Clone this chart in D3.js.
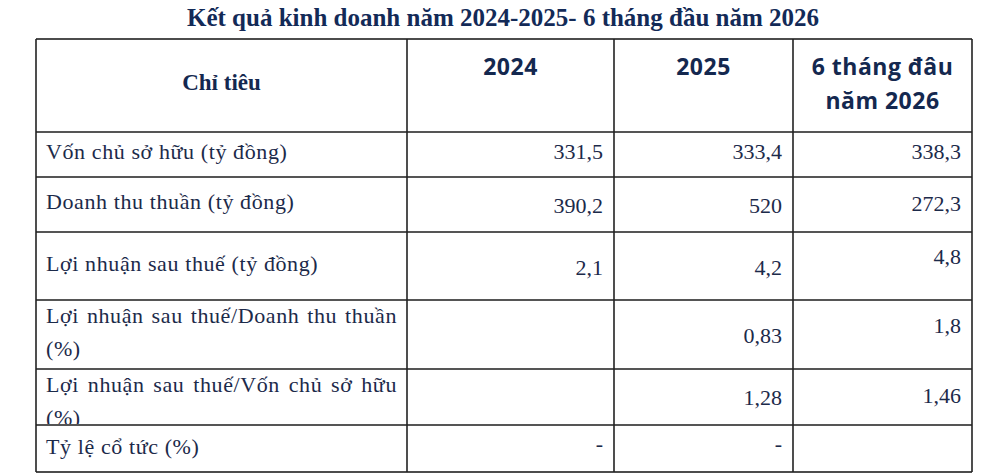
<!doctype html>
<html>
<head>
<meta charset="utf-8">
<title>Kết quả kinh doanh</title>
<script src="https://d3js.org/d3.v7.min.js"></script>
<style>
  body { margin: 0; background: #fff; }
  .lbl, .num { font-family: "Liberation Serif", "Times New Roman", serif; font-size: 22px; fill: #1c2a4a; }
  .lbl { letter-spacing: 0.6px; }
  .title { font-family: "Liberation Serif", serif; font-weight: bold; font-size: 25px; fill: #132a57; }
  .hdr-serif { font-family: "Liberation Serif", serif; font-weight: bold; font-size: 23px; fill: #14284f; }
  .hdr-sans { font-family: "Open Sans", "Noto Sans", sans-serif; font-weight: bold; font-size: 23px; letter-spacing: 0.5px; fill: #14284f; }
</style>
</head>
<body>
<div id="chart"></div>
<script>
// data
var title = "Kết quả kinh doanh năm 2024-2025- 6 tháng đầu năm 2026";
var headers = [["Chỉ tiêu"], ["2024"], ["2025"], ["6 tháng đâu", "năm 2026"]];
var rowLabels = [
  ["Vốn chủ sở hữu (tỷ đồng)"],
  ["Doanh thu thuần (tỷ đồng)"],
  ["Lợi nhuận sau thuế (tỷ đồng)"],
  ["Lợi nhuận sau thuế/Doanh thu thuần", "(%)"],
  ["Lợi nhuận sau thuế/Vốn chủ sở hữu", "(%)"],
  ["Tỷ lệ cổ tức (%)"]
];
var v2024 = ["331,5", "390,2", "2,1", "", "", "-"];
var v2025 = ["333,4", "520", "4,2", "0,83", "1,28", "-"];
var v2026 = ["338,3", "272,3", "4,8", "1,8", "1,46", ""];

// layout
var width = 1000, height = 475;
var rowEdges = [39, 132, 177, 232, 300, 369, 425, 472];
var colEdges = [36, 407, 614, 793, 972];
var numLift = [[4, 4, 4], [8, 8, 6], [9, 9, -2], [8, 8, -2], [8, 8, 6], [2, 2, 2]];

var yTop = d3.scaleOrdinal().domain(d3.range(rowEdges.length)).range(rowEdges);
var xLeft = d3.scaleOrdinal().domain(d3.range(colEdges.length)).range(colEdges);
var rowH = function(i) { return yTop(i + 1) - yTop(i); };
var colMid = function(j) { return (xLeft(j) + xLeft(j + 1)) / 2; };

var svg = d3.select("#chart").append("svg")
  .attr("width", width)
  .attr("height", height);

svg.append("text")
  .attr("class", "title")
  .attr("x", 503)
  .attr("y", 26)
  .attr("text-anchor", "middle")
  .text(title);

// header
headers.forEach(function(lines, j) {
  var t = svg.append("text")
    .attr("class", j === 0 ? "hdr-serif" : "hdr-sans")
    .attr("text-anchor", "middle")
    .attr("x", colMid(j));
  if (j === 0) {
    t.attr("y", 90).text(lines[0]);
  } else {
    lines.forEach(function(s, k) {
      t.append("tspan").attr("x", colMid(j)).attr("y", 75 + k * 34).text(s);
    });
  }
});

// clip paths for label cells
var defs = svg.append("defs");
rowLabels.forEach(function(d, i) {
  defs.append("clipPath").attr("id", "clip" + i)
    .append("rect")
    .attr("x", xLeft(0)).attr("y", yTop(i + 1))
    .attr("width", xLeft(1) - xLeft(0)).attr("height", rowH(i + 1));
});

// row labels
rowLabels.forEach(function(lines, i) {
  var r = i + 1;
  var g = svg.append("g").attr("clip-path", "url(#clip" + i + ")");
  if (lines.length === 1) {
    g.append("text").attr("class", "lbl")
      .attr("x", xLeft(0) + 10)
      .attr("y", yTop(r) + rowH(r) / 2 + [4, 4, 5, 0, 0, 5][i])
      .text(lines[0]);
  } else {
    lines.forEach(function(s, k) {
      var t = g.append("text").attr("class", "lbl")
        .attr("x", xLeft(0) + 10)
        .attr("y", yTop(r) + 23 + k * 33)
        .text(s);
      if (k === 0) {
        // justify first line to the cell width
        var words = s.split(" ").length - 1;
        var w = t.node().getComputedTextLength();
        var target = xLeft(1) - 10 - (xLeft(0) + 10);
        if (words > 0 && w < target) t.style("word-spacing", ((target - w) / words) + "px");
      }
    });
  }
});

// values
[v2024, v2025, v2026].forEach(function(col, c) {
  var j = c + 1;
  svg.append("g").selectAll("text")
    .data(col)
    .join("text")
    .attr("class", "num")
    .attr("text-anchor", "end")
    .attr("x", xLeft(j + 1) - 11)
    .attr("y", function(d, i) { return yTop(i + 1) + rowH(i + 1) / 2 + numLift[i][c]; })
    .text(function(d) { return d; });
});

// grid
var grid = svg.append("g");
grid.selectAll("line.h")
  .data(rowEdges)
  .join("line")
  .attr("x1", colEdges[0]).attr("x2", colEdges[colEdges.length - 1])
  .attr("y1", function(d) { return d; }).attr("y2", function(d) { return d; })
  .attr("stroke", function(d, i) { return (i === 0 || i === rowEdges.length - 1) ? "#111" : "#555"; })
  .attr("stroke-width", function(d, i) { return (i === 0 || i === rowEdges.length - 1) ? 1.6 : 2; });
grid.selectAll("line.v")
  .data(colEdges)
  .join("line")
  .attr("y1", rowEdges[0]).attr("y2", rowEdges[rowEdges.length - 1])
  .attr("x1", function(d) { return d; }).attr("x2", function(d) { return d; })
  .attr("stroke", "#222")
  .attr("stroke-width", 1.6);
</script>
</body>
</html>
